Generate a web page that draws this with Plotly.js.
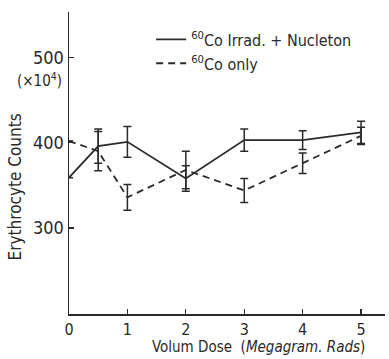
<!DOCTYPE html>
<html>
<head>
<meta charset="utf-8">
<script src="https://cdn.plot.ly/plotly-3.0.1.min.js"></script>
<style>html,body{margin:0;padding:0;background:#fff;}#chart{width:389px;height:359px;}</style>
</head>
<body>
<div id="chart"></div>
<script>
var doses = [0, 0.5, 1, 2, 3, 4, 5];
var nucletonCounts = [359, 396, 401, 358, 403, 403, 412];
var nucletonErr = [0, 20, 18, 15, 13, 11, 13];
var coOnlyCounts = [402, 390, 336, 368, 344, 376, 408];
var coOnlyErr = [0, 23, 15, 22, 14, 12, 10];
var xTickVals = [0, 1, 2, 3, 4, 5];
var xTickText = ['0', '1', '2', '3', '4', '5'];
var yTickVals = [300, 400, 500];
var yTickText = ['300', '400', '500'];
var seriesNames = ['<sup>60</sup>Co Irrad. + Nucleton', '<sup>60</sup>Co only'];

var FONT = 'DejaVu Sans Condensed, Liberation Sans Narrow, DejaVu Sans, sans-serif';
var INK = '#2a2a2a';

var traces = [
  {
    x: doses, y: nucletonCounts, name: seriesNames[0], type: 'scatter', mode: 'lines',
    line: {color: INK, width: 1.8},
    error_y: {type: 'data', array: nucletonErr, visible: true, color: INK, thickness: 1.5, width: 4}
  },
  {
    x: doses, y: coOnlyCounts, name: seriesNames[1], type: 'scatter', mode: 'lines',
    line: {color: INK, width: 1.8, dash: '7px,5px'},
    error_y: {type: 'data', array: coOnlyErr, visible: true, color: INK, thickness: 1.5, width: 4}
  }
];

var layout = {
  width: 389, height: 359,
  margin: {l: 69, r: 4, t: 12, b: 45},
  paper_bgcolor: '#fff', plot_bgcolor: '#fff',
  font: {family: FONT, color: INK, size: 16},
  showlegend: true,
  legend: {
    x: 0.26, y: 0.965, xanchor: 'left', yanchor: 'top',
    bgcolor: 'rgba(0,0,0,0)', font: {family: FONT, size: 16, color: INK},
    tracegroupgap: 0, itemwidth: 30
  },
  xaxis: {
    range: [0, 5.41], showgrid: false, zeroline: false,
    showline: true, linecolor: INK, linewidth: 1.5,
    tickmode: 'array', tickvals: xTickVals, ticktext: xTickText,
    ticks: 'inside', ticklen: 5, tickcolor: INK, tickwidth: 1.3,
    tickfont: {family: FONT, size: 16, color: INK}
  },
  yaxis: {
    range: [199.4, 553], showgrid: false, zeroline: false,
    showline: true, linecolor: INK, linewidth: 1.5,
    tickmode: 'array', tickvals: yTickVals, ticktext: yTickText,
    ticks: 'inside', ticklen: 5, tickcolor: INK, tickwidth: 1.3,
    tickfont: {family: FONT, size: 18, color: INK}
  },
  annotations: [
    {text: 'Erythrocyte Counts', textangle: -90, xref: 'paper', yref: 'paper',
     x: -0.17, y: 0.42, xanchor: 'center', yanchor: 'middle', showarrow: false,
     font: {family: FONT, size: 17, color: INK}},
    {text: '(×10<sup>4</sup>)', xref: 'paper', yref: 'paper',
     x: -0.015, y: 0.775, xanchor: 'right', yanchor: 'middle', showarrow: false,
     font: {family: FONT, size: 15, color: INK}},
    {text: 'Volum Dose  (<i>Megagram. Rads</i>)', xref: 'paper', yref: 'paper',
     x: 0.6, y: -0.146, xanchor: 'center', yanchor: 'bottom', showarrow: false,
     font: {family: FONT, size: 15, color: INK}}
  ]
};

Plotly.newPlot('chart', traces, layout, {displayModeBar: false, staticPlot: true});
</script>
</body>
</html>
